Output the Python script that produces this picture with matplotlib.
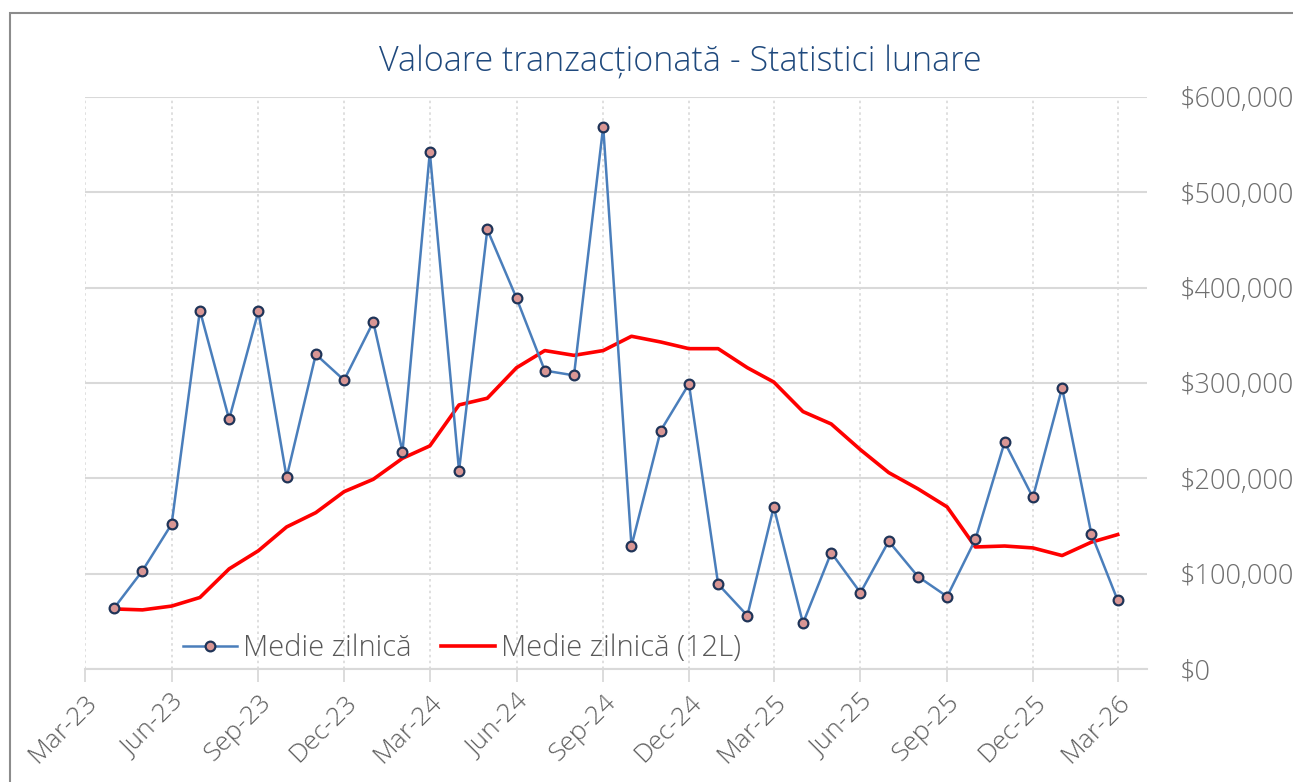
import pandas as pd
import numpy as np
import matplotlib.pyplot as plt
import matplotlib.dates as mdates
from matplotlib.ticker import FuncFormatter, MultipleLocator
from matplotlib.patches import Rectangle

plt.rcParams['font.family'] = ['Open Sans', 'DejaVu Sans']
plt.rcParams['font.weight'] = 'light'

# luni (prima zi a lunii)
luni = pd.date_range('2023-04-01', '2026-03-01', freq='MS')

medie_zilnica = [64, 103, 152, 376, 262, 375, 201, 330, 303, 364, 228, 542,
                 208, 461, 389, 313, 308, 569, 129, 250, 299, 89, 56, 170,
                 48, 122, 80, 134, 97, 76, 136, 238, 180, 295, 142, 72]
medie_12l = [63, 62, 66, 75, 105, 124, 149, 164, 186, 199, 221, 234,
             277, 284, 316, 334, 329, 334, 349, 343, 336, 336, 316, 301,
             270, 257, 230, 206, 189, 170, 128, 129, 127, 119, 133, 141]
medie_zilnica = np.array(medie_zilnica) * 1000
medie_12l = np.array(medie_12l) * 1000

tick_luni = pd.date_range('2023-03-01', '2026-03-01', freq='3MS')

gri_text = '#6f6f6f'
gri_grid = '#d9d9d9'

fig = plt.figure(figsize=(12.93, 7.82), dpi=100)
ax = fig.add_axes([0.0657, 0.1445, 0.8213, 0.7315])

ax.plot(luni, medie_zilnica, color='#4a7ebb', lw=1.8, marker='o', ms=7,
        mfc='#d99694', mec='#1f3458', mew=1.6, label='Medie zilnică', zorder=3)
ax.plot(luni, medie_12l, color='#ff0000', lw=2.6, label='Medie zilnică (12L)', zorder=2)

ax.set_ylim(0, 600000)
ax.yaxis.set_major_locator(MultipleLocator(100000))
ax.yaxis.set_major_formatter(FuncFormatter(lambda v, p: f'${v:,.0f}'))
ax.yaxis.tick_right()
ax.tick_params(axis='y', length=0, pad=24, labelsize=19.5, labelcolor=gri_text)

ax.set_xlim(pd.Timestamp('2023-03-01'), pd.Timestamp('2026-04-01'))
ax.set_xticks(tick_luni)
ax.xaxis.set_major_formatter(mdates.DateFormatter('%b-%y'))
ax.tick_params(axis='x', length=9, width=1.3, color=gri_grid, pad=6,
               labelsize=19, labelcolor='#5f5f5f')
for lbl in ax.get_xticklabels():
    lbl.set_rotation(45)
    lbl.set_ha('right')
    lbl.set_va('top')
    lbl.set_rotation_mode('anchor')

ax.grid(axis='y', color=gri_grid, lw=1.5)
ax.grid(axis='x', color=gri_grid, lw=1.2, ls=(0, (1.5, 2)))
ax.set_axisbelow(True)
for s in ['top', 'left', 'right']:
    ax.spines[s].set_visible(False)
ax.spines['bottom'].set_color(gri_grid)
ax.spines['bottom'].set_linewidth(1.5)

leg = ax.legend(loc='lower left', bbox_to_anchor=(0.068, -0.035), ncol=2, frameon=False,
                fontsize=21, handlelength=1.85, columnspacing=1.0, handletextpad=0.2)
for t in leg.get_texts():
    t.set_color('#595959')

fig.text(0.526, 0.92, 'Valoare tranzacționată - Statistici lunare', ha='center', va='center',
         fontsize=24.5, color='#1f497d')

fig.patches.append(Rectangle((10 / 1293, -0.1), 1.2, 1 - 13 / 782 + 0.1,
                             transform=fig.transFigure, fill=False, ec='#8c8c8c', lw=1.5))

fig.savefig('out.png', dpi=100)
